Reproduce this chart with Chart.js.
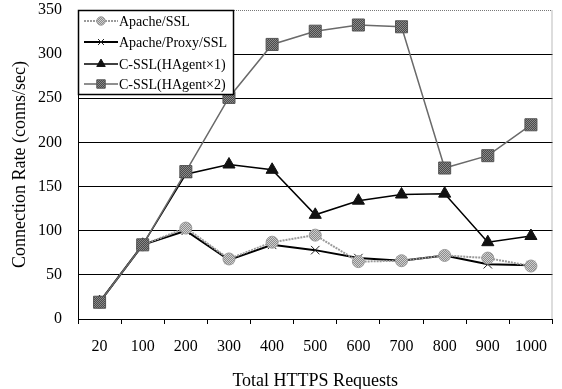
<!DOCTYPE html>
<html>
<head>
<meta charset="utf-8">
<script src="https://cdn.jsdelivr.net/npm/chart.js@4.4.0/dist/chart.umd.min.js"></script>
<style>
html,body{margin:0;padding:0;background:#fff;}
#wrap{width:562px;height:389px;}
</style>
</head>
<body>
<div id="wrap"><canvas id="c" width="562" height="389"></canvas></div>
<script>
const categories = ['20','100','200','300','400','500','600','700','800','900','1000'];
const apacheSSL = [19, 84, 103, 68, 87, 95, 65, 66, 72, 69, 60];
const apacheProxySSL = [19, 84, 100, 67, 84, 78, 69, 66, 72, 62, 61];
const cssl1 = [19, 84, 164, 175, 169, 118, 134, 141, 142, 87, 94];
const cssl2 = [19, 84, 167, 251, 311, 326, 333, 331, 171, 185, 220];
const seriesNames = ['Apache/SSL', 'Apache/Proxy/SSL', 'C-SSL(HAgent\u00d71)', 'C-SSL(HAgent\u00d72)'];
const yTicks = [0, 50, 100, 150, 200, 250, 300, 350];

function checker(c1, c2) {
  const p = document.createElement('canvas');
  p.width = 2; p.height = 2;
  const g = p.getContext('2d');
  g.fillStyle = c1; g.fillRect(0,0,2,2);
  g.fillStyle = c2; g.fillRect(0,0,1,1); g.fillRect(1,1,1,1);
  return g.createPattern(p, 'repeat');
}
const darkPat = checker('#4a4a4a', '#8a8a8a');
const lightPat = checker('#8c8c8c', '#cfcfcf');

const SERIF = "'Liberation Serif', 'Times New Roman', serif";

const datasets = [
  {label: seriesNames[0], data: apacheSSL, borderColor: '#9a9a9a', borderWidth: 2, borderDash: [2,1],
   pointStyle: 'circle', pointRadius: 6, pointBackgroundColor: lightPat, pointBorderColor: '#9a9a9a', pointBorderWidth: 1, order: 2},
  {label: seriesNames[1], data: apacheProxySSL, borderColor: '#000', borderWidth: 2,
   pointStyle: 'crossRot', pointRadius: 6, pointBorderColor: '#222', pointBorderWidth: 1, order: 3},
  {label: seriesNames[2], data: cssl1, borderColor: '#000', borderWidth: 1.5,
   pointStyle: 'triangle', pointRadius: 7, pointBackgroundColor: '#111', pointBorderColor: '#111', pointBorderWidth: 1, order: 1},
  {label: seriesNames[3], data: cssl2, borderColor: '#6a6a6a', borderWidth: 1.5,
   pointStyle: 'rect', pointRadius: 8.5, pointBackgroundColor: darkPat, pointBorderColor: '#555', pointBorderWidth: 1, order: 0}
];
datasets.forEach(d => { d.fill = false; d.tension = 0; d.backgroundColor = d.pointBackgroundColor || d.borderColor; });

const frame = {
  id: 'frame',
  beforeDatasetsDraw(chart) {
    const {ctx, chartArea: a} = chart;
    ctx.save();
    ctx.strokeStyle = '#777';
    ctx.lineWidth = 1;
    ctx.setLineDash([1, 1]);
    ctx.beginPath();
    ctx.moveTo(a.left, a.top + 0.5);
    ctx.lineTo(a.right - 0.5, a.top + 0.5);
    ctx.lineTo(a.right - 0.5, a.bottom);
    ctx.stroke();
    ctx.restore();
  }
};

const boxLegend = {
  id: 'boxLegend',
  afterDatasetsDraw(chart) {
    const {ctx, chartArea: a} = chart;
    const x0 = a.left, y0 = a.top, w = 155, h = 84;
    ctx.save();
    ctx.fillStyle = '#fff';
    ctx.fillRect(x0, y0, w, h);
    ctx.strokeStyle = '#000';
    ctx.lineWidth = 1.5;
    ctx.strokeRect(x0 + 0.5, y0 + 0.5, w, h);
    const rows = [y0 + 11, y0 + 32, y0 + 54, y0 + 74];
    chart.data.datasets.forEach((d, i) => {
      const y = rows[i];
      ctx.save();
      ctx.strokeStyle = d.borderColor;
      ctx.lineWidth = d.borderWidth;
      ctx.setLineDash(d.borderDash || []);
      ctx.beginPath();
      ctx.moveTo(x0 + 6, y); ctx.lineTo(x0 + 40, y);
      ctx.stroke();
      ctx.restore();
      ctx.save();
      ctx.fillStyle = d.pointBackgroundColor || '#000';
      ctx.strokeStyle = d.pointBorderColor;
      ctx.lineWidth = d.pointBorderWidth;
      Chart.helpers.drawPoint(ctx, {pointStyle: d.pointStyle, rotation: 0, radius: d.pointRadius * 0.7, borderWidth: d.pointBorderWidth}, x0 + 23, y);
      ctx.restore();
      ctx.fillStyle = '#000';
      ctx.font = "14px " + SERIF;
      ctx.textBaseline = 'middle';
      ctx.fillText(d.label, x0 + 41, y + 1);
    });
    ctx.restore();
  }
};

new Chart(document.getElementById('c'), {
  type: 'line',
  data: {labels: categories, datasets},
  options: {
    responsive: false,
    animation: false,
    layout: {padding: {top: 10, right: 2, left: 0, bottom: 0}},
    plugins: {legend: {display: false}, tooltip: {enabled: false}},
    scales: {
      x: {
        offset: true,
        grid: {display: true, drawOnChartArea: false, drawTicks: true, tickLength: 5, offset: true, color: '#000'},
        border: {display: true, color: '#000', width: 1},
        ticks: {color: '#000', font: {family: SERIF, size: 16}, padding: 13, maxRotation: 0, autoSkip: false},
        title: {display: true, text: 'Total HTTPS Requests', color: '#000', font: {family: SERIF, size: 18}, padding: {top: 0, bottom: -3}},
        afterFit: s => { s.height = 70; s.paddingLeft = 0; s.paddingRight = 0; s.paddingTop = 0; s.paddingBottom = 0; }
      },
      y: {
        min: 0, max: 350,
        afterBuildTicks: s => { s.ticks = yTicks.map(v => ({value: v})); },
        grid: {drawTicks: false, color: ctx => (ctx.tick && ctx.tick.value === 350) ? 'rgba(0,0,0,0)' : '#000', lineWidth: 1},
        border: {display: true, color: '#000', width: 1},
        ticks: {color: '#000', font: {family: SERIF, size: 16}, padding: 16},
        title: {display: true, text: 'Connection Rate (conns/sec)', color: '#000', font: {family: SERIF, size: 18}, padding: {top: 9, bottom: 0}},
        afterFit: s => { s.width = 78; s.paddingTop = 0; s.paddingBottom = 0; s.paddingLeft = 0; s.paddingRight = 0; }
      }
    }
  },
  plugins: [frame, boxLegend]
});
</script>
</body>
</html>
